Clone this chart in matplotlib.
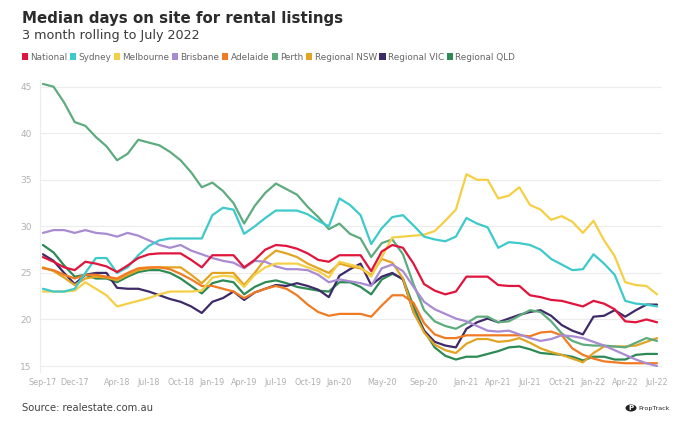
import matplotlib
matplotlib.use("Agg")
import matplotlib.pyplot as plt
from matplotlib.patches import Patch, Circle
import numpy as np

# monthly, Sep-17 .. Jul-22 (59 months)
months = ["Sep-17", "Oct-17", "Nov-17", "Dec-17", "Jan-18", "Feb-18", "Mar-18", "Apr-18",
          "May-18", "Jun-18", "Jul-18", "Aug-18", "Sep-18", "Oct-18", "Nov-18", "Dec-18",
          "Jan-19", "Feb-19", "Mar-19", "Apr-19", "May-19", "Jun-19", "Jul-19", "Aug-19",
          "Sep-19", "Oct-19", "Nov-19", "Dec-19", "Jan-20", "Feb-20", "Mar-20", "Apr-20",
          "May-20", "Jun-20", "Jul-20", "Aug-20", "Sep-20", "Oct-20", "Nov-20", "Dec-20",
          "Jan-21", "Feb-21", "Mar-21", "Apr-21", "May-21", "Jun-21", "Jul-21", "Aug-21",
          "Sep-21", "Oct-21", "Nov-21", "Dec-21", "Jan-22", "Feb-22", "Mar-22", "Apr-22",
          "May-22", "Jun-22", "Jul-22"]
tick_labels = ["Sep-17", "Dec-17", "Apr-18", "Jul-18", "Oct-18", "Jan-19", "Apr-19", "Jul-19",
               "Oct-19", "Jan-20", "May-20", "Sep-20", "Jan-21", "Apr-21", "Jul-21", "Oct-21",
               "Jan-22", "Apr-22", "Jul-22"]

national = [26.7, 26.2, 25.6, 25.3, 26.2, 26.0, 25.7, 25.1, 25.8, 26.6,
            27.0, 27.1, 27.1, 27.1, 26.4, 25.6, 26.9, 26.9, 26.9, 25.6,
            26.4, 27.5, 28.0, 27.9, 27.6, 27.1, 26.4, 26.2, 26.9, 26.9,
            26.9, 25.2, 27.3, 28.0, 27.7, 26.0, 23.8, 23.1, 22.7, 23.0,
            24.6, 24.6, 24.6, 23.7, 23.6, 23.6, 22.6, 22.4, 22.1, 22.0,
            21.7, 21.4, 22.0, 21.7, 21.1, 19.8, 19.7, 20.0, 19.7]
sydney = [23.3, 23.0, 23.0, 23.3, 25.0, 26.6, 26.6, 25.0, 25.6, 26.9,
          27.9, 28.5, 28.7, 28.7, 28.7, 28.7, 31.2, 32.0, 31.8, 29.2,
          30.0, 30.9, 31.7, 31.7, 31.7, 31.3, 30.6, 30.0, 33.0, 32.3,
          31.2, 28.1, 29.8, 31.0, 31.2, 30.1, 28.9, 28.6, 28.4, 28.9,
          30.9, 30.3, 29.9, 27.7, 28.3, 28.2, 28.0, 27.5, 26.5, 25.9,
          25.3, 25.4, 27.0, 26.0, 24.8, 22.0, 21.7, 21.6, 21.4]
melbourne = [23.0, 23.0, 23.0, 23.1, 24.0, 23.3, 22.6, 21.4, 21.7, 22.0,
             22.3, 22.7, 23.0, 23.0, 23.0, 23.1, 24.5, 24.7, 24.6, 23.5,
             24.8, 25.6, 26.0, 26.0, 26.0, 25.6, 25.2, 24.5, 26.2, 25.9,
             25.6, 24.6, 26.7, 28.8, 28.9, 29.0, 29.1, 29.5, 30.6, 31.8,
             35.6, 35.0, 35.0, 33.0, 33.3, 34.2, 32.3, 31.8, 30.7, 31.1,
             30.5, 29.3, 30.6, 28.5, 26.8, 24.0, 23.7, 23.6, 22.7]
brisbane = [29.3, 29.6, 29.6, 29.3, 29.6, 29.3, 29.2, 28.9, 29.3, 29.0,
            28.5, 28.0, 27.7, 28.0, 27.4, 27.0, 26.6, 26.3, 26.1, 25.5,
            26.3, 26.2, 25.7, 25.4, 25.4, 25.3, 24.8, 24.0, 24.3, 24.1,
            23.9, 23.6, 25.5, 25.9, 25.2, 23.5, 21.9, 21.1, 20.6, 20.1,
            19.8, 19.3, 18.8, 18.7, 18.8, 18.4, 18.0, 17.7, 17.9, 18.3,
            18.2, 18.0, 17.6, 17.2, 16.7, 16.2, 15.7, 15.3, 15.0]
adelaide = [25.5, 25.3, 24.8, 24.4, 24.8, 24.8, 24.6, 24.4, 25.0, 25.5,
            25.6, 25.6, 25.4, 24.9, 24.3, 23.6, 23.6, 23.3, 23.0, 22.3,
            22.9, 23.3, 23.6, 23.3, 22.6, 21.6, 20.8, 20.4, 20.6, 20.6,
            20.6, 20.3, 21.5, 22.6, 22.6, 21.8, 19.6, 18.4, 18.0, 18.0,
            18.3, 18.3, 18.3, 18.3, 18.3, 18.3, 18.2, 18.6, 18.7, 18.3,
            16.9, 16.2, 15.8, 15.5, 15.4, 15.3, 15.3, 15.3, 15.3]
perth = [45.3, 45.0, 43.3, 41.2, 40.8, 39.6, 38.6, 37.1, 37.8, 39.3,
         39.0, 38.7, 38.0, 37.1, 35.8, 34.2, 34.7, 33.8, 32.5, 30.3,
         32.2, 33.6, 34.6, 34.0, 33.4, 32.1, 31.0, 29.7, 30.3, 29.2,
         28.7, 26.7, 28.2, 28.6, 27.0, 23.8, 21.0, 19.8, 19.3, 19.0,
         19.6, 20.3, 20.3, 19.7, 19.8, 20.4, 21.0, 20.8, 19.8, 18.5,
         17.7, 17.3, 17.2, 17.2, 17.1, 17.0, 17.5, 18.0, 17.7]
regional_nsw = [25.6, 25.2, 24.5, 23.7, 24.4, 24.6, 24.5, 24.2, 24.8, 25.3,
                25.5, 25.6, 25.6, 25.6, 24.8, 23.9, 25.0, 25.0, 25.0, 23.7,
                25.0, 26.5, 27.4, 27.1, 26.7, 26.0, 25.5, 25.0, 26.0, 25.7,
                25.5, 24.8, 26.5, 26.1, 24.4, 20.8, 18.6, 17.3, 16.7, 16.4,
                17.4, 17.9, 17.9, 17.6, 17.7, 18.0, 17.5, 16.9, 16.5, 16.2,
                15.8, 15.4, 16.4, 17.1, 17.1, 17.1, 17.2, 17.6, 18.0]
regional_vic = [27.0, 26.3, 25.0, 23.8, 24.8, 25.0, 25.0, 23.4, 23.3, 23.3,
                23.0, 22.6, 22.2, 21.9, 21.4, 20.7, 21.9, 22.3, 23.0, 22.1,
                22.9, 23.3, 23.7, 23.6, 23.9, 23.6, 23.2, 22.4, 24.7, 25.4,
                26.0, 23.7, 24.6, 25.0, 24.3, 20.8, 18.8, 17.6, 17.2, 17.0,
                19.0, 19.7, 20.1, 19.7, 20.1, 20.5, 20.8, 21.0, 20.4, 19.4,
                18.8, 18.4, 20.3, 20.4, 21.0, 20.3, 21.0, 21.6, 21.6]
regional_qld = [28.0, 27.2, 25.8, 24.6, 24.8, 24.4, 24.4, 24.0, 24.6, 25.1,
                25.3, 25.3, 25.0, 24.4, 23.6, 22.8, 23.9, 24.2, 24.0, 22.7,
                23.5, 24.0, 24.2, 23.9, 23.5, 23.3, 23.1, 23.0, 24.0, 24.0,
                23.5, 22.7, 24.3, 24.9, 24.4, 21.4, 18.8, 17.0, 16.1, 15.7,
                16.0, 16.0, 16.3, 16.6, 17.0, 17.1, 16.8, 16.4, 16.3, 16.2,
                16.0, 15.6, 16.0, 16.0, 15.7, 15.7, 16.2, 16.3, 16.3]

series = [
    ("National", national, "#e0143c"),
    ("Sydney", sydney, "#3ec9cb"),
    ("Melbourne", melbourne, "#f5cf45"),
    ("Brisbane", brisbane, "#a98bd2"),
    ("Adelaide", adelaide, "#f07b22"),
    ("Perth", perth, "#5eab7e"),
    ("Regional NSW", regional_nsw, "#e2a423"),
    ("Regional VIC", regional_vic, "#3e2a68"),
    ("Regional QLD", regional_qld, "#2d8a55"),
]

W, H = 680, 436
fig = plt.figure(figsize=(W / 100, H / 100), dpi=100)
fig.patch.set_facecolor("white")
font = "DejaVu Sans"

# plot area in pixels: left 40, right 662, top 80, bottom 372
ax = fig.add_axes([40 / W, (H - 372) / H, 622 / W, 292 / H])
x = np.arange(len(months))

for name, vals, col in series[::-1]:
    ax.plot(x, vals, color=col, lw=1.6, solid_joinstyle="round", solid_capstyle="round", zorder=3)

ax.set_xlim(-0.28, 58.47)
ax.set_ylim(14.36, 45.72)
ax.set_yticks([15, 20, 25, 30, 35, 40, 45])
ax.set_yticklabels(["15", "20", "25", "30", "35", "40", "45"])
ax.set_xticks([months.index(m) for m in tick_labels])
ax.set_xticklabels(tick_labels)
ax.grid(axis="y", color="#ececec", lw=0.8)
ax.set_axisbelow(True)
for s in ["top", "right", "bottom"]:
    ax.spines[s].set_visible(False)
ax.spines["left"].set_color("#ececec")
ax.spines["left"].set_linewidth(0.8)
ax.tick_params(axis="y", length=0, colors="#b0b0b0", labelsize=6.5, pad=6)
ax.tick_params(axis="x", length=0, colors="#b0b0b0", labelsize=5.8, pad=4)
for t in ax.get_xticklabels() + ax.get_yticklabels():
    t.set_family(font)

# title block
fig.text(22 / W, 1 - 18 / H, "Median days on site for rental listings", fontsize=10.8,
         fontweight="bold", color="#2b2b2b", va="center", family=font)
fig.text(22 / W, 1 - 36 / H, "3 month rolling to July 2022", fontsize=9.2,
         color="#3a3a3a", va="center", family=font)

handles = [Patch(facecolor=c, edgecolor="none", label=n) for n, _, c in series]
fig.legend(handles=handles, loc="center left", bbox_to_anchor=(18 / W, 1 - 57 / H),
           ncol=9, frameon=False, handlelength=0.7, handleheight=0.9,
           handletextpad=0.25, columnspacing=0.3, borderaxespad=0,
           labelcolor="#666666", prop={"family": font, "size": 6.4})

# footer
fig.text(22 / W, 1 - 408 / H, "Source: realestate.com.au", fontsize=7.2, color="#444444",
         va="center", family=font)
fig.patches.append(Circle((631 / W, 1 - 408 / H), 5.5 / W, transform=fig.transFigure,
                          facecolor="#222222", edgecolor="none"))
fig.text(631 / W, 1 - 408 / H, "P", fontsize=5, color="white", ha="center", va="center",
         fontweight="bold", family=font)
fig.text(638 / W, 1 - 408 / H, "PropTrack", fontsize=4.6, color="#222222", va="center",
         family=font)

fig.savefig("out.png", dpi=100, facecolor="white")
